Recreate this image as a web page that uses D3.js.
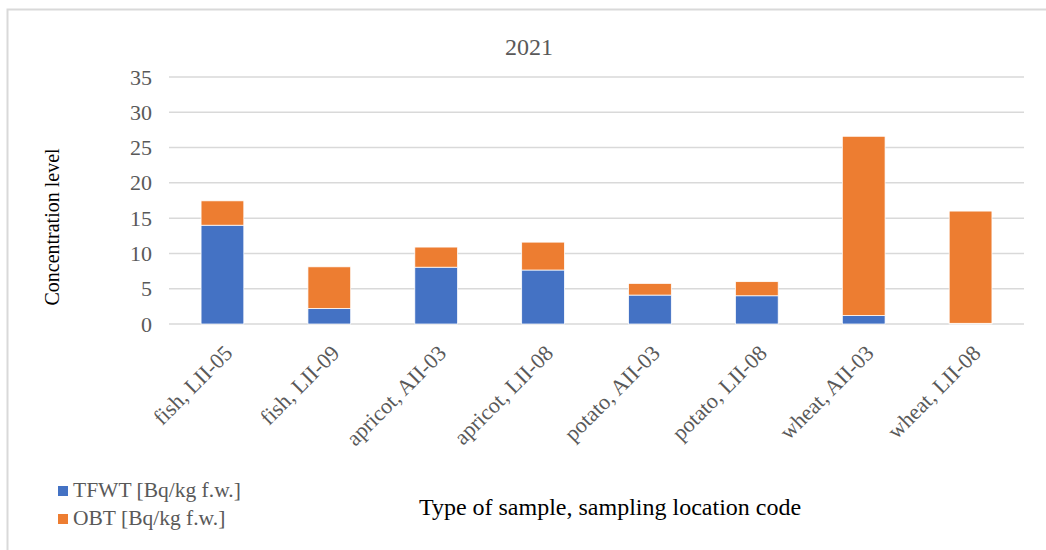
<!DOCTYPE html>
<html>
<head>
<meta charset="utf-8">
<script src="https://cdn.jsdelivr.net/npm/d3@7"></script>
<style>
  body { margin: 0; background: #fff; }
  text { font-family: "Liberation Serif", "Times New Roman", serif; }
</style>
</head>
<body>
<script>
// chart data
var categories = ["fish, LII-05", "fish, LII-09", "apricot, AII-03", "apricot, LII-08",
                  "potato, AII-03", "potato, LII-08", "wheat, AII-03", "wheat, LII-08"];
var tfwt = [14.0, 2.2, 8.05, 7.65, 4.1, 4.0, 1.2, 0.1];
var obt  = [3.45, 5.9, 2.85, 3.95, 1.65, 2.0, 25.4, 15.9];
var seriesNames = ["TFWT [Bq/kg f.w.]", "OBT [Bq/kg f.w.]"];
var yTicks = [0, 5, 10, 15, 20, 25, 30, 35];

var W = 1046, H = 550;
var plot = {left: 169, right: 1024, top: 77, bottom: 324};

var svg = d3.select("body").append("svg")
    .attr("width", W)
    .attr("height", H);

// outer chart border (runs off the right/bottom edge in the source)
svg.append("rect")
    .attr("x", 7.5).attr("y", 9.5)
    .attr("width", W + 20).attr("height", H + 20)
    .attr("fill", "#fff")
    .attr("stroke", "#d9d9d9")
    .attr("stroke-width", 2);

var x = d3.scaleBand().domain(categories).range([plot.left, plot.right]);
var y = d3.scaleLinear().domain([0, 35]).range([plot.bottom, plot.top]);

// gridlines
svg.append("g").selectAll("line")
    .data(yTicks)
    .enter().append("line")
    .attr("x1", plot.left).attr("x2", plot.right)
    .attr("y1", function(d) { return y(d); })
    .attr("y2", function(d) { return y(d); })
    .attr("stroke", "#d9d9d9")
    .attr("stroke-width", 1.5);

// y axis labels
var yAxis = d3.axisLeft(y).tickValues(yTicks).tickSize(0).tickPadding(17);
var gy = svg.append("g")
    .attr("transform", "translate(" + plot.left + ",0)")
    .call(yAxis);
gy.select(".domain").remove();
gy.selectAll("text")
    .attr("fill", "#595959")
    .style("font-size", "22px")
    .style("font-family", "Liberation Serif, serif");

// stacked bars
var rows = categories.map(function(c, i) { return {cat: c, TFWT: tfwt[i], OBT: obt[i]}; });
var stack = d3.stack().keys(["TFWT", "OBT"])(rows);
var colors = ["#4472c4", "#ed7d31"];
var barW = x.bandwidth() * 0.4;

svg.append("g").selectAll("g")
    .data(stack)
    .enter().append("g")
    .attr("fill", function(d, i) { return colors[i]; })
  .selectAll("rect")
    .data(function(d) { return d; })
    .enter().append("rect")
    .attr("x", function(d) { return x(d.data.cat) + (x.bandwidth() - barW) / 2; })
    .attr("width", barW)
    .attr("y", function(d) { return y(d[1]); })
    .attr("height", function(d) { return y(d[0]) - y(d[1]); })
    .attr("stroke", "#fff")
    .attr("stroke-width", 0.75);

// x axis labels, rotated
svg.append("g").selectAll("text")
    .data(categories)
    .enter().append("text")
    .attr("transform", function(d) {
      return "translate(" + (x(d) + x.bandwidth() / 2 + 6) + ",349) rotate(-45)";
    })
    .attr("text-anchor", "end")
    .attr("dy", "0.35em")
    .attr("fill", "#595959")
    .style("font-size", "22px")
    .text(function(d) { return d; });

// title
svg.append("text")
    .attr("x", 529).attr("y", 55)
    .attr("text-anchor", "middle")
    .attr("fill", "#595959")
    .style("font-size", "24px")
    .text("2021");

// axis titles
svg.append("text")
    .attr("transform", "translate(59,227) rotate(-90)")
    .attr("text-anchor", "middle")
    .attr("fill", "#000")
    .style("font-size", "20px")
    .text("Concentration level");

svg.append("text")
    .attr("x", 610).attr("y", 515)
    .attr("text-anchor", "middle")
    .attr("fill", "#000")
    .style("font-size", "24px")
    .text("Type of sample, sampling location code");

// legend
var legend = svg.append("g").selectAll("g")
    .data(seriesNames)
    .enter().append("g")
    .attr("transform", function(d, i) { return "translate(58," + (486 + i * 28) + ")"; });
legend.append("rect")
    .attr("width", 10).attr("height", 10)
    .attr("fill", function(d, i) { return colors[i]; });
legend.append("text")
    .attr("x", 15).attr("y", 11)
    .attr("fill", "#595959")
    .style("font-size", "21.5px")
    .text(function(d) { return d; });
</script>
</body>
</html>
